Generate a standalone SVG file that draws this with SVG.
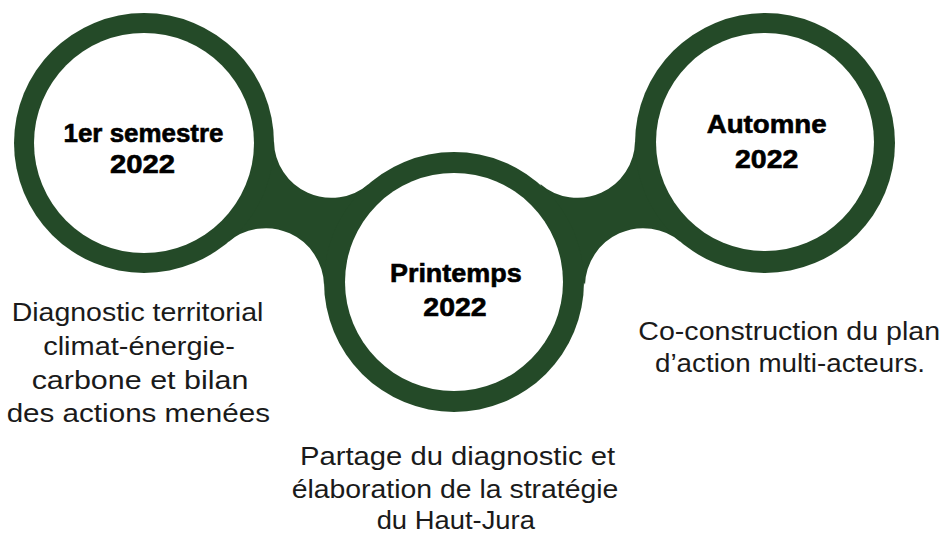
<svg xmlns="http://www.w3.org/2000/svg" width="944" height="535" viewBox="0 0 944 535">
  <style>
    .ring { fill: #244a28; }
    .hole { fill: #ffffff; }
    .bridge { fill: #244a28; }
    .head { font-family: "Liberation Sans", Arial, sans-serif; font-weight: bold; font-size: 26px; fill: #000000; stroke: #000000; stroke-width: 0.6px; text-anchor: middle; }
    .body { font-family: "Liberation Sans", Arial, sans-serif; font-size: 26px; fill: #1a1a1a; text-anchor: middle; }
  </style>
  <rect width="944" height="535" fill="#ffffff"/>
  <g id="connectors">
    <path class="bridge" d="M 274 141.4 A 57.3 57.3 0 0 0 368.7 183.9 L 324 284.8 A 58.2 58.2 0 0 0 228.4 241.9 Z"/>
    <path class="bridge" d="M 635 141.4 A 57.3 57.3 0 0 1 540.3 183.9 L 585 284.8 A 58.2 58.2 0 0 1 680.6 241.9 Z"/>
  </g>
  <g id="node-1er-semestre">
    <circle class="ring" cx="144" cy="143" r="130"/>
    <circle class="hole" cx="144" cy="143" r="110"/>
    <text class="head" x="143.5" y="141.7" textLength="160" lengthAdjust="spacingAndGlyphs">1er semestre</text>
    <text class="head" x="142.5" y="172.7" textLength="65" lengthAdjust="spacingAndGlyphs">2022</text>
  </g>
  <g id="node-printemps">
    <circle class="ring" cx="454" cy="282" r="130"/>
    <circle class="hole" cx="454" cy="282" r="109"/>
    <text class="head" x="455.8" y="281.7" textLength="131.7" lengthAdjust="spacingAndGlyphs">Printemps</text>
    <text class="head" x="455" y="316" textLength="63.3" lengthAdjust="spacingAndGlyphs">2022</text>
  </g>
  <g id="node-automne">
    <circle class="ring" cx="765" cy="143" r="130"/>
    <circle class="hole" cx="765" cy="142" r="109"/>
    <text class="head" x="766.7" y="133" textLength="120" lengthAdjust="spacingAndGlyphs">Automne</text>
    <text class="head" x="766.7" y="167.7" textLength="63.3" lengthAdjust="spacingAndGlyphs">2022</text>
  </g>
  <g id="label-diagnostic">
    <text class="body" x="137.5" y="321" textLength="251.7" lengthAdjust="spacingAndGlyphs">Diagnostic territorial</text>
    <text class="body" x="139" y="355" textLength="191.7" lengthAdjust="spacingAndGlyphs">climat-énergie-</text>
    <text class="body" x="140" y="388.5" textLength="216.7" lengthAdjust="spacingAndGlyphs">carbone et bilan</text>
    <text class="body" x="138.3" y="422" textLength="263.3" lengthAdjust="spacingAndGlyphs">des actions menées</text>
  </g>
  <g id="label-partage">
    <text class="body" x="457.5" y="465" textLength="315" lengthAdjust="spacingAndGlyphs">Partage du diagnostic et</text>
    <text class="body" x="455" y="498" textLength="326.7" lengthAdjust="spacingAndGlyphs">élaboration de la stratégie</text>
    <text class="body" x="455.8" y="529" textLength="158.3" lengthAdjust="spacingAndGlyphs">du Haut-Jura</text>
  </g>
  <g id="label-coconstruction">
    <text class="body" x="789.2" y="340" textLength="301.7" lengthAdjust="spacingAndGlyphs">Co-construction du plan</text>
    <text class="body" x="790" y="371.7" textLength="270" lengthAdjust="spacingAndGlyphs">d’action multi-acteurs.</text>
  </g>
</svg>
